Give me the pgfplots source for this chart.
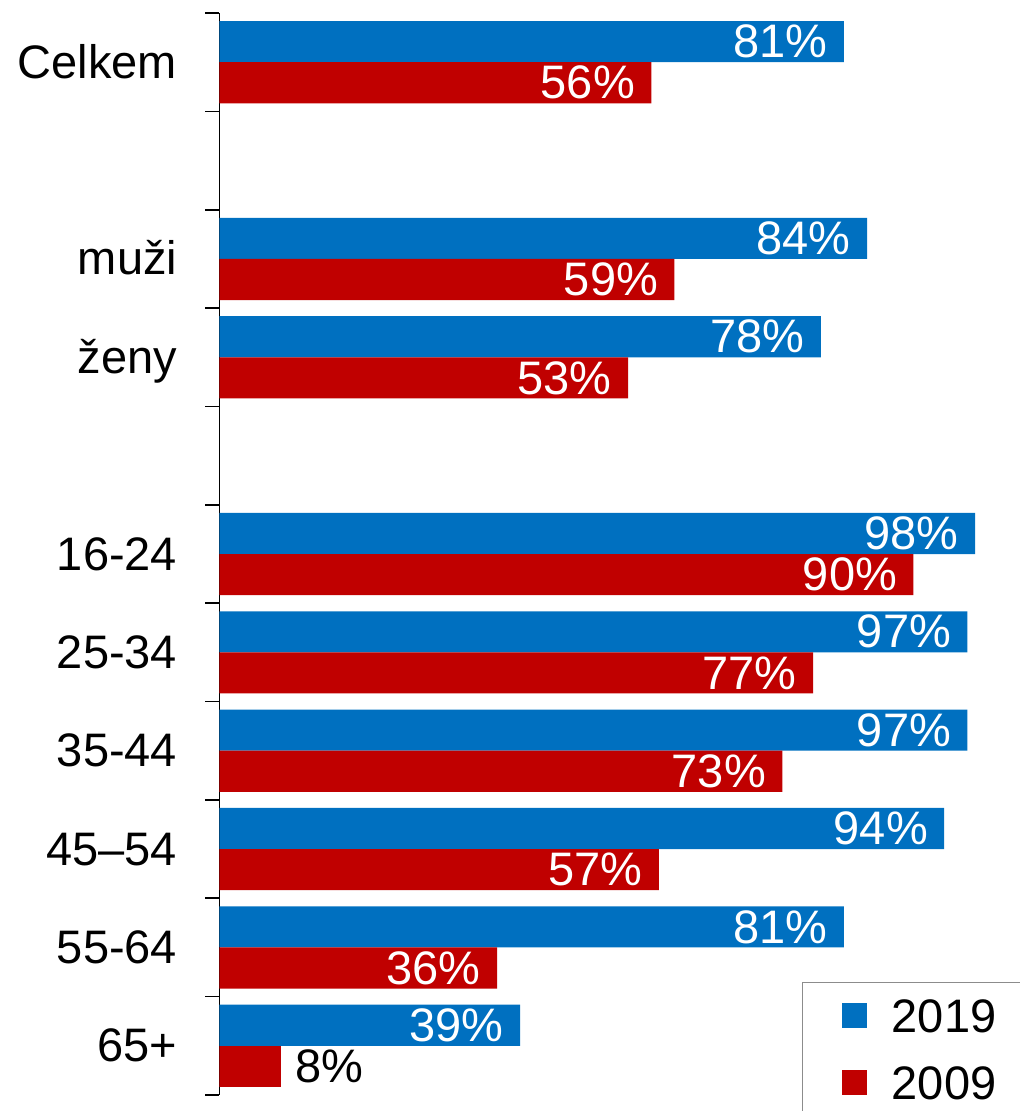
\documentclass[border=0pt]{standalone}
\usepackage{fontspec}
\setmainfont{Liberation Sans}
\usepackage{pgfplots}
\pgfplotsset{compat=1.18}
\definecolor{blu}{HTML}{0070C0}
\definecolor{rd}{HTML}{C00000}
\definecolor{legframe}{HTML}{8C8C8C}
\newcommand{\bigf}{\fontsize{23.5}{28}\selectfont}
\begin{document}
\begin{tikzpicture}
\begin{axis}[
  name=ax,
  xbar,
  scale only axis,
  width=400.25pt, height=541pt,
  xmin=0, xmax=103.83,
  ymin=-0.5, ymax=10.5,
  y dir=reverse,
  axis x line=none,
  axis y line*=left,
  axis line style={line width=0.8pt, black},
  ytick={0,...,10},
  yticklabels={Celkem,,muži,ženy,,16-24,25-34,35-44,45–54,55-64,65+},
  major tick length=0pt,
  minor ytick={-0.5,0.5,...,10.5},
  minor tick length=7pt,
  tick align=outside,
  minor tick style={line width=0.8pt, black},
  yticklabel style={font=\bigf, anchor=east, inner sep=0pt,
    text height=16pt, text depth=0pt, xshift=-21pt},
  bar width=0.418,
  point meta=x,
  nodes near coords={\pgfmathprintnumber[assume math mode=true]{\pgfplotspointmeta}\%},
  nodes near coords style={font=\bigf, anchor=east, text=white, inner sep=0pt, xshift=-8pt},
  legend style={at={(0.7277,0.1044)}, anchor=north west,
    draw=legframe, line width=0.7pt,
    inner xsep=19.5pt, inner ysep=7.9pt, font=\bigf,
    nodes={inner sep=0pt, text height=17pt, text depth=0pt, anchor=west},
    row sep=16.5pt},
  legend cell align=left,
  legend image code/.code={\fill[#1] (0pt,-6.25pt) rectangle (12.5pt,6.25pt); \path (25pt,0pt);},
]
\addplot[bar shift=-0.209, fill=blu, draw=none] coordinates {
  (81,0) (84,2) (78,3) (98,5) (97,6) (97,7) (94,8) (81,9) (39,10)};
\addlegendentry{2019}
\addplot[bar shift=0.209, fill=rd, draw=none] coordinates {
  (56,0) (59,2) (53,3) (90,5) (77,6) (73,7) (57,8) (36,9)};
\addlegendentry{2009}
\addplot[bar shift=0.209, fill=rd, draw=none, forget plot,
  nodes near coords style={anchor=west, text=black, xshift=15pt}]
  coordinates {(8,10)};
\end{axis}
\pgfresetboundingbox
\path[use as bounding box] ([shift={(-109.75pt,-8pt)}]ax.south west) rectangle ([shift={(0pt,6.5pt)}]ax.north east);
\end{tikzpicture}
\end{document}
